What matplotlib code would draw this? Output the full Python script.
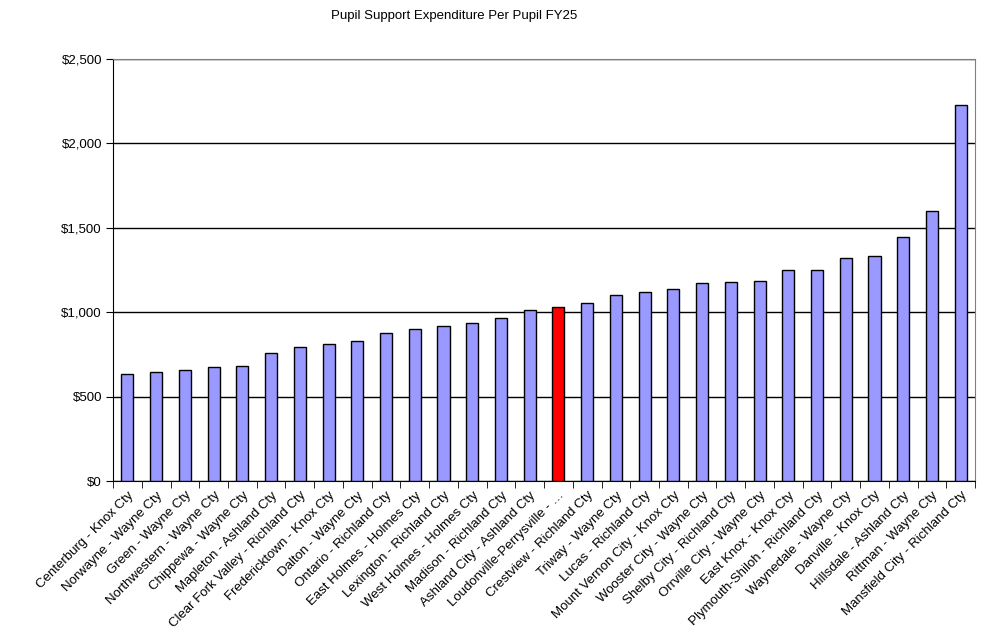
import matplotlib.pyplot as plt
from matplotlib.ticker import FuncFormatter, FixedLocator

plt.rcParams['font.family'] = ['Liberation Sans', 'DejaVu Sans']

districts = ['Centerburg - Knox Cty', 'Norwayne - Wayne Cty', 'Green - Wayne Cty',
             'Northwestern - Wayne Cty', 'Chippewa - Wayne Cty', 'Mapleton - Ashland Cty',
             'Clear Fork Valley - Richland Cty', 'Fredericktown - Knox Cty', 'Dalton - Wayne Cty',
             'Ontario - Richland Cty', 'East Holmes - Holmes Cty', 'Lexington - Richland Cty',
             'West Holmes - Holmes Cty', 'Madison - Richland Cty', 'Ashland City - Ashland Cty',
             'Loudonville-Perrysville - \u2026', 'Crestview - Richland Cty', 'Triway - Wayne Cty',
             'Lucas - Richland Cty', 'Mount Vernon City - Knox Cty', 'Wooster City - Wayne Cty',
             'Shelby City - Richland Cty', 'Orrville City - Wayne Cty', 'East Knox - Knox Cty',
             'Plymouth-Shiloh - Richland Cty', 'Waynedale - Wayne Cty', 'Danville - Knox Cty',
             'Hillsdale - Ashland Cty', 'Rittman - Wayne Cty', 'Mansfield City - Richland Cty']
spending = [633, 645, 658, 674, 680, 757, 793, 811, 828, 876, 899, 917, 935, 965, 1012,
            1030, 1053, 1101, 1119, 1136, 1172, 1178, 1184, 1249, 1249, 1320, 1333, 1445,
            1599, 2226]
highlight = 'Loudonville-Perrysville - \u2026'

colors = ['#ff0000' if d == highlight else '#9999ff' for d in districts]

fig = plt.figure(figsize=(9.89, 6.4), dpi=100)
ax = fig.add_axes([0.1143, 0.2484, 0.8716, 0.6594])

x = list(range(len(districts)))
ax.bar(x, spending, width=0.42, color=colors, edgecolor='black', linewidth=1, zorder=3)

ax.set_xlim(-0.5, len(districts) - 0.5)
ax.set_ylim(0, 2500)
ax.set_yticks([0, 500, 1000, 1500, 2000, 2500])
ax.yaxis.set_major_formatter(FuncFormatter(lambda v, p: '${:,.0f}'.format(v)))
ax.grid(axis='y', color='black', linewidth=1, zorder=1)

ax.set_xticks(x)
ax.set_xticklabels(districts, rotation=45, ha='right', rotation_mode='anchor', fontsize=9.5)
ax.tick_params(axis='x', length=0, pad=6)
ax.xaxis.set_minor_locator(FixedLocator([i - 0.5 for i in range(len(districts) + 1)]))
ax.tick_params(axis='x', which='minor', length=5, direction='out', color='black')
ax.tick_params(axis='y', length=5, direction='out', labelsize=9.5, pad=3)

for side in ['top', 'right']:
    ax.spines[side].set_color('#808080')
ax.spines['left'].set_color('black')
ax.spines['bottom'].set_color('black')

fig.text(0.459, 0.984, 'Pupil Support Expenditure Per Pupil FY25', ha='center', va='top', fontsize=9.5)

plt.savefig('out.png', dpi=100, facecolor='w')
